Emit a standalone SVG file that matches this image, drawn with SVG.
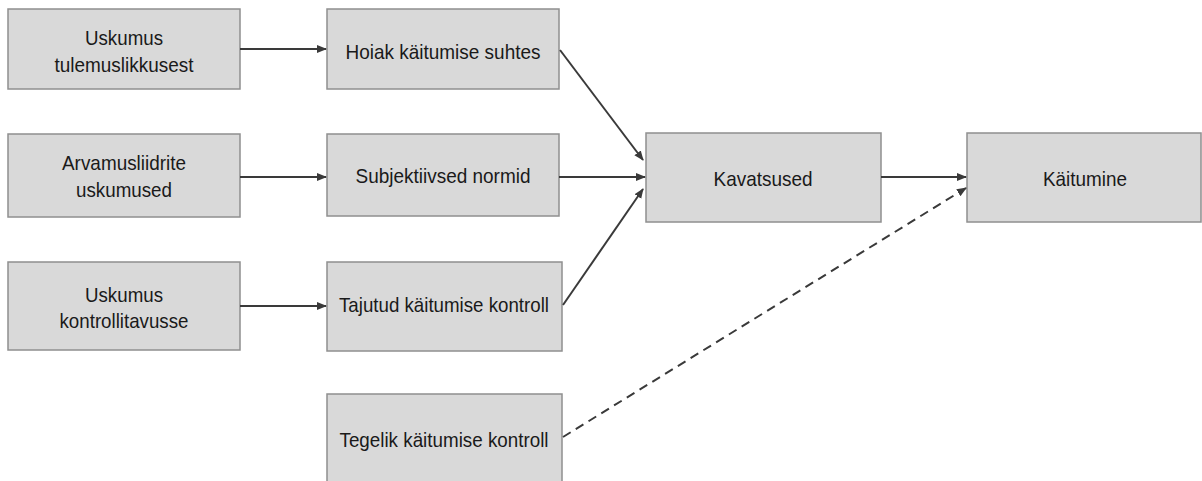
<svg xmlns="http://www.w3.org/2000/svg" width="1202" height="481" viewBox="0 0 1202 481">
<style>
.box{fill:#d9d9d9;stroke:#8f8f8f;stroke-width:1.5}
.t{font-family:"Liberation Sans",Arial,sans-serif;font-size:21px;fill:#1a1a1a;text-anchor:middle}
.c{stroke:#3a3a3a;stroke-width:2;fill:none;marker-end:url(#ah)}
.d{stroke-dasharray:9,6}
</style>
<defs>
<marker id="ah" viewBox="0 0 10 10" refX="9" refY="5" markerWidth="5" markerHeight="5" orient="auto" markerUnits="strokeWidth">
<path d="M0,1 L10,5 L0,9 z" fill="#3a3a3a"/>
</marker>
</defs>
<rect width="1202" height="481" fill="#ffffff"/>
<g id="n1"><rect class="box" x="8" y="9" width="232" height="80"/><text class="t" x="124" y="45" textLength="78" lengthAdjust="spacingAndGlyphs">Uskumus</text><text class="t" x="124" y="72" textLength="139" lengthAdjust="spacingAndGlyphs">tulemuslikkusest</text></g>
<g id="n2"><rect class="box" x="8" y="134" width="232" height="83"/><text class="t" x="124" y="170" textLength="124" lengthAdjust="spacingAndGlyphs">Arvamusliidrite</text><text class="t" x="124" y="197" textLength="96" lengthAdjust="spacingAndGlyphs">uskumused</text></g>
<g id="n3"><rect class="box" x="8" y="262" width="232" height="88"/><text class="t" x="124" y="302" textLength="78" lengthAdjust="spacingAndGlyphs">Uskumus</text><text class="t" x="124" y="328" textLength="129" lengthAdjust="spacingAndGlyphs">kontrollitavusse</text></g>
<g id="n4"><rect class="box" x="327" y="9" width="232" height="80"/><text class="t" x="443" y="59" textLength="195" lengthAdjust="spacingAndGlyphs">Hoiak käitumise suhtes</text></g>
<g id="n5"><rect class="box" x="327" y="134" width="232" height="82"/><text class="t" x="443" y="183" textLength="175" lengthAdjust="spacingAndGlyphs">Subjektiivsed normid</text></g>
<g id="n6"><rect class="box" x="327" y="262" width="235" height="89"/><text class="t" x="444" y="312" textLength="210" lengthAdjust="spacingAndGlyphs">Tajutud käitumise kontroll</text></g>
<g id="n7"><rect class="box" x="327" y="394" width="235" height="95"/><text class="t" x="444" y="447" textLength="209" lengthAdjust="spacingAndGlyphs">Tegelik käitumise kontroll</text></g>
<g id="n8"><rect class="box" x="646" y="133" width="235" height="89"/><text class="t" x="763" y="186" textLength="99" lengthAdjust="spacingAndGlyphs">Kavatsused</text></g>
<g id="n9"><rect class="box" x="967" y="133" width="234" height="89"/><text class="t" x="1085" y="186" textLength="84" lengthAdjust="spacingAndGlyphs">Käitumine</text></g>
<g id="connectors">
<path class="c" d="M240,49 L326,49"/>
<path class="c" d="M240,177 L326,177"/>
<path class="c" d="M240,306 L326,306"/>
<path class="c" d="M560,50 L643,160"/>
<path class="c" d="M559,177 L645,177"/>
<path class="c" d="M563,305 L643,189"/>
<path class="c" d="M881,177 L966,177"/>
<path class="c d" d="M563,437 L966,188"/>
</g>
</svg>
